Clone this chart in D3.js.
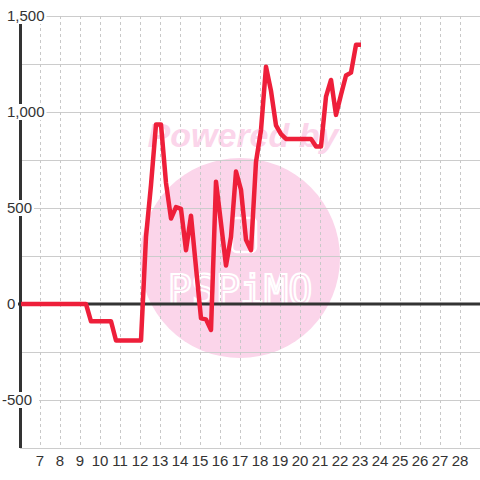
<!DOCTYPE html>
<html>
<head>
<meta charset="utf-8">
<script src="https://cdn.jsdelivr.net/npm/d3@7"></script>
<style>
  html, body { margin: 0; padding: 0; background: #ffffff; }
  svg { display: block; font-family: "Liberation Sans", Arial, sans-serif; }
</style>
</head>
<body>
<svg id="chart" width="480" height="480"></svg>
<script>
// Data (day of month, value)
const days = [6.05, 9.3, 9.55, 10.55, 10.8, 12.05, 12.3, 12.55, 12.8, 13.05, 13.3, 13.55, 13.8, 14.05, 14.3, 14.55, 14.8, 15.05, 15.3, 15.55, 15.8, 16.05, 16.3, 16.55, 16.8, 17.05, 17.3, 17.55, 17.8, 18.05, 18.3, 18.55, 18.8, 19.05, 19.3, 20.55, 20.8, 21.05, 21.3, 21.55, 21.8, 22.05, 22.3, 22.55, 22.8, 23.05];
const values = [0, 0, -90, -90, -190, -190, 350, 620, 935, 935, 630, 445, 505, 495, 280, 460, 190, -75, -80, -135, 637, 420, 200, 350, 690, 595, 335, 280, 740, 906, 1236, 1110, 930, 885, 860, 860, 820, 820, 1080, 1167, 985, 1090, 1190, 1205, 1350, 1350];
const xTickDays = [7, 8, 9, 10, 11, 12, 13, 14, 15, 16, 17, 18, 19, 20, 21, 22, 23, 24, 25, 26, 27, 28];
const xGridDays = [7, 8, 9, 10, 11, 12, 13, 14, 15, 16, 17, 18, 19, 20, 21, 22, 23, 24, 25, 26, 27, 28, 29];
const yGridValues = [-750, -500, -250, 250, 500, 750, 1000, 1250, 1500];
const yLabelValues = [-500, 0, 500, 1000, 1500];

const svg = d3.select("#chart");
const W = 480, H = 480;
const x = d3.scaleLinear().domain([6, 29.95]).range([20, 499]);
const y = d3.scaleLinear().domain([-750, 1500]).range([448, 16]);

svg.append("rect").attr("width", W).attr("height", H).attr("fill", "#ffffff");

// Watermark
const wm = svg.append("g");
wm.append("circle").attr("cx", 240).attr("cy", 258).attr("r", 100).attr("fill", "#fbd5ea");
wm.append("text").attr("x", 243).attr("y", 147).attr("text-anchor", "middle")
  .attr("font-size", 34).attr("font-weight", "bold").attr("font-style", "italic")
  .attr("fill", "#fbd5ea").text("Powered by");
wm.append("rect").attr("x", 232).attr("y", 218).attr("width", 24).attr("height", 34).attr("rx", 5)
  .attr("fill", "none").attr("stroke", "#ffffff").attr("stroke-width", 2.5);
wm.append("text").attr("x", 240).attr("y", 304).attr("text-anchor", "middle")
  .attr("font-size", 40).attr("font-family", "'DejaVu Sans Mono', monospace")
  .attr("fill", "none").attr("stroke", "#ffffff").attr("stroke-width", 2.2)
  .attr("letter-spacing", 0).text("PSPiMO");

// Horizontal gridlines
svg.append("g").selectAll("line").data(yGridValues).join("line")
  .attr("x1", 20).attr("x2", W)
  .attr("y1", d => Math.round(y(d)) + 0.5).attr("y2", d => Math.round(y(d)) + 0.5)
  .attr("stroke", "#cccccc").attr("stroke-width", 1);

// Vertical dashed gridlines
svg.append("g").selectAll("line").data(xGridDays).join("line")
  .attr("x1", d => Math.round(x(d)) + 0.5).attr("x2", d => Math.round(x(d)) + 0.5)
  .attr("y1", y(1500)).attr("y2", y(-750))
  .attr("stroke", "#c8c8c8").attr("stroke-width", 1).attr("stroke-dasharray", "3,3");

// Zero line
svg.append("line").attr("x1", 18).attr("x2", W).attr("y1", y(0)).attr("y2", y(0))
  .attr("stroke", "#333333").attr("stroke-width", 3);

// Y axis line
svg.append("line").attr("x1", 20.5).attr("x2", 20.5).attr("y1", y(1500)).attr("y2", y(-750))
  .attr("stroke", "#333333").attr("stroke-width", 3);

// Y labels with white background
const fmt = d3.format(",");
const yl = svg.append("g").selectAll("g").data(yLabelValues).join("g");
yl.each(function(d) {
  const g = d3.select(this);
  const t = g.append("text").attr("x", d < 0 ? 2 : 7).attr("y", y(d)).attr("dy", "0.35em")
    .attr("font-size", 15).attr("fill", "#333333").text(fmt(d).replace("−", "-"));
  const bb = t.node().getBBox();
  g.insert("rect", "text").attr("x", bb.x - 2).attr("y", y(d) - 8)
    .attr("width", bb.width + (d < 0 ? 9 : 4)).attr("height", 16).attr("fill", "#ffffff");
});

// X tick labels
svg.append("g").selectAll("text").data(xTickDays).join("text")
  .attr("x", d => x(d)).attr("y", 461).attr("dy", "0.35em").attr("text-anchor", "middle")
  .attr("font-size", 15).attr("fill", "#333333").text(d => d);

// Series line
const pts = days.map((d, i) => [d, values[i]]);
svg.append("path").datum(pts)
  .attr("d", d3.line().x(d => x(d[0])).y(d => y(d[1])))
  .attr("fill", "none").attr("stroke", "#ee1f3a").attr("stroke-width", 4.5)
  .attr("stroke-linejoin", "round").attr("stroke-linecap", "butt");
</script>
</body>
</html>
